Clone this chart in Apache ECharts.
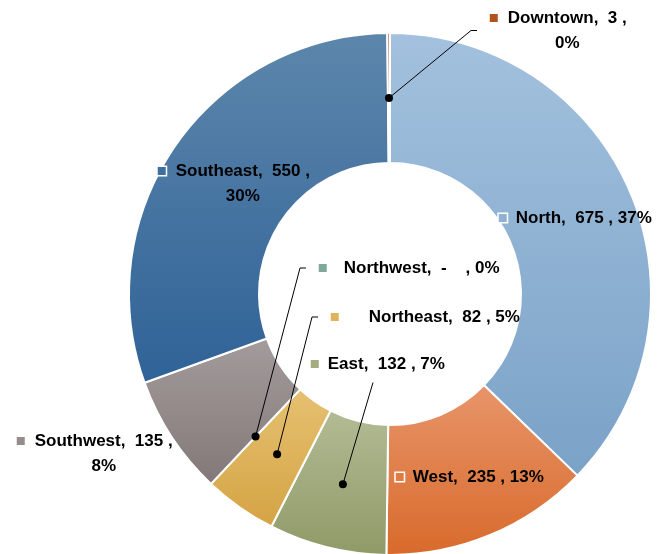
<!DOCTYPE html>
<html>
<head>
<meta charset="utf-8">
<script src="https://cdn.jsdelivr.net/npm/echarts@6/dist/echarts.min.js"></script>
<style>
  html, body { margin: 0; padding: 0; background: #ffffff; }
  #chart { width: 659px; height: 554px; }
</style>
</head>
<body>
<div id="chart"></div>
<script>
// Sales by region, in drawing order (clockwise from 12 o'clock)
const regions = ['North', 'West', 'East', 'Northeast', 'Northwest', 'Southwest', 'Southeast', 'Downtown'];
const sales = [675, 235, 132, 82, 0, 135, 550, 3];

// Slice fills: vertical gradient [top, bottom] and the key colour shown in each label
const fillTop = ['#a3c1de', '#e8956a', '#b3bb94', '#e6c172', '#8fb3a6', '#a39c9b', '#5d86ab', '#c06a3a'];
const fillBottom = ['#7aa2c7', '#d86a2b', '#8f9a67', '#d4a343', '#6f998a', '#837878', '#2f6297', '#a24a1b'];
const keyColors = ['#8fb1d3', '#de7c44', '#a3ad7e', '#e0b45a', '#7fa89a', '#958c8c', '#3f6f9f', '#b0541e'];

// Donut geometry
const CX = 390, CY = 294, R0 = 131, R1 = 261;
const LINE_H = 25;

// Label placement: left edge of the key square and middle of the first text line
const spots = [
  { x: 498, y: 218, gap: 9 },                              // North
  { x: 395, y: 477, gap: 9 },                              // West
  { x: 310, y: 364, gap: 9, guide: 'below' },              // East
  { x: 330, y: 317, gap: 30, guide: 'left' },              // Northeast
  { x: 318, y: 268, gap: 17, guide: 'left' },              // Northwest
  { x: 16, y: 441, gap: 10, wrap: true },                  // Southwest
  { x: 157, y: 171, gap: 10, wrap: true },                 // Southeast
  { x: 489, y: 18, gap: 10, wrap: true, guide: 'left' }    // Downtown
];

const total = sales.reduce((a, b) => a + b, 0);

// Point in the middle of the ring on a slice's centre angle
function sliceAnchor(i) {
  let before = 0;
  for (let k = 0; k < i; k++) before += sales[k];
  const ang = (before + sales[i] / 2) / total * Math.PI * 2;
  const r = (R0 + R1) / 2;
  return [CX + r * Math.sin(ang), CY - r * Math.cos(ang)];
}

// Leader line from the slice to its label
function guidePoints(i) {
  const s = spots[i];
  const a = sliceAnchor(i);
  const top = s.y - LINE_H / 2;
  const h = LINE_H * (s.wrap ? 2 : 1);
  if (s.guide === 'left') {
    const end = [s.x - 12, top + h / 2];
    return [a, [end[0] - 6, end[1]], end];
  }
  return [a, [s.x + 63, top + h + 6]];
}

const FONT = '"Liberation Sans", Arial, sans-serif';

const pieData = regions.map((name, i) => {
  const s = spots[i];
  return {
    name: name,
    value: sales[i],
    itemStyle: {
      color: new echarts.graphic.LinearGradient(0, 0, 0, 1, [
        { offset: 0, color: fillTop[i] },
        { offset: 1, color: fillBottom[i] }
      ])
    },
    label: {
      rich: {
        k: { width: 8, height: 8, backgroundColor: keyColors[i], borderColor: '#ffffff', borderWidth: 1.5 },
        s: { width: 8, height: 8 },
        t: { fontFamily: FONT, fontSize: 17, fontWeight: 'bold', color: '#000000',
             lineHeight: LINE_H, padding: [0, 0, 0, s.gap] }
      }
    }
  };
});

const guides = [];
spots.forEach((s, i) => {
  if (!s.guide) return;
  const pts = guidePoints(i);
  guides.push({
    type: 'polyline', z: 100, silent: true,
    shape: { points: pts },
    style: { stroke: '#000000', lineWidth: 1, fill: null }
  });
  guides.push({
    type: 'circle', z: 101, silent: true,
    shape: { cx: pts[0][0], cy: pts[0][1], r: 4 },
    style: { fill: '#000000' }
  });
});

const chart = echarts.init(document.getElementById('chart'), null, { renderer: 'canvas' });

chart.setOption({
  backgroundColor: '#ffffff',
  animation: false,
  series: [{
    type: 'pie',
    center: [CX, CY],
    radius: [R0, R1],
    startAngle: 90,
    clockwise: true,
    percentPrecision: 0,
    avoidLabelOverlap: false,
    emphasis: { disabled: true },
    itemStyle: { borderColor: '#ffffff', borderWidth: 2 },
    label: {
      show: true,
      position: 'outside',
      lineHeight: LINE_H,
      formatter: function (p) {
        const i = p.dataIndex;
        const v = p.value === 0 ? '-   ' : String(p.value);
        const pct = Math.round(p.percent) + '%';
        if (spots[i].wrap) {
          return '{k|}{t|' + p.name + ',  ' + v + ' ,}\n{s|}{t|' + pct + '}';
        }
        return '{k|}{t|' + p.name + ',  ' + v + ' , ' + pct + '}';
      }
    },
    labelLine: { show: false },
    labelLayout: function (p) {
      const s = spots[p.dataIndex];
      return {
        x: s.x + p.labelRect.width / 2,
        y: s.y - LINE_H / 2,
        align: 'center',
        verticalAlign: 'top'
      };
    },
    data: pieData
  }],
  graphic: guides
});
</script>
</body>
</html>
